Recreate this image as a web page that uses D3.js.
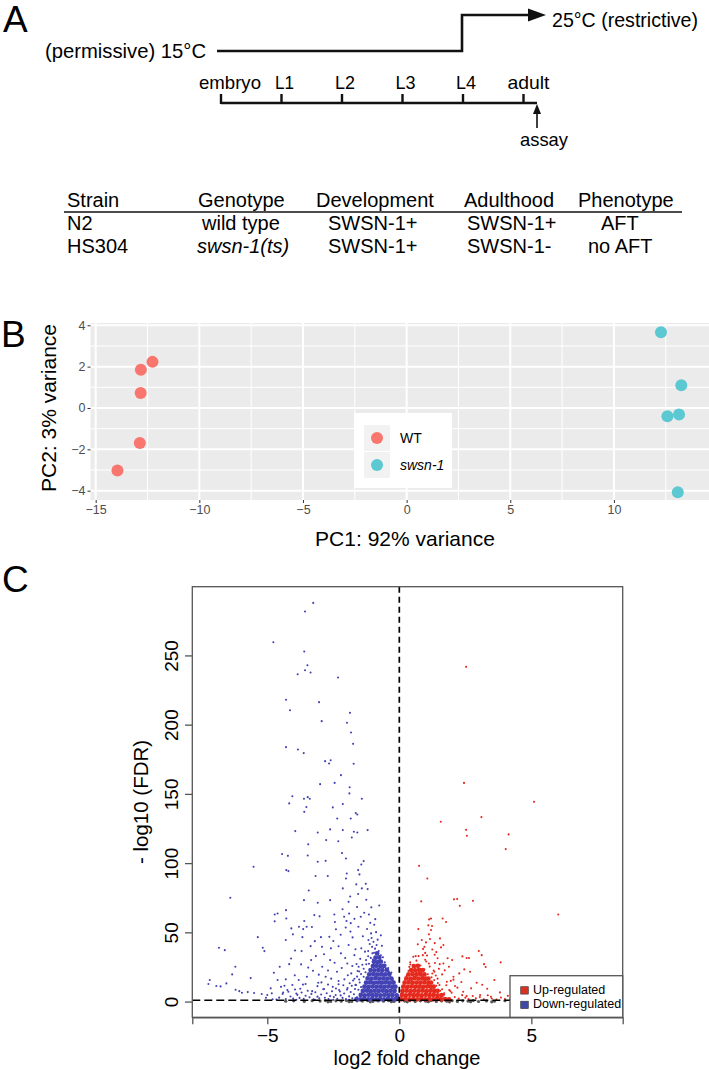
<!DOCTYPE html>
<html><head><meta charset="utf-8">
<script src="https://cdn.jsdelivr.net/npm/d3@7"></script>
<style>
body{margin:0;background:#fff}
svg{display:block;font-family:"Liberation Sans",Arial,Helvetica,sans-serif}
</style>
</head><body>
<svg id="fig" width="709" height="1070"></svg>
<script>
// ---------------- DATA ----------------
// Panel A
const stages = ["embryo","L1","L2","L3","L4","adult"];
const tempLabels = ["(permissive) 15°C","25°C (restrictive)"];
const tableHeaders = ["Strain","Genotype","Development","Adulthood","Phenotype"];
const tableRows = [
  ["N2","wild type","SWSN-1+","SWSN-1+","AFT"],
  ["HS304","swsn-1(ts)","SWSN-1+","SWSN-1-","no AFT"]
];
// Panel B (PCA)
const pcaGroups = ["WT","swsn-1"];
const pcaWT = [[-12.26,2.23],[-12.82,1.85],[-12.83,0.73],[-12.87,-1.69],[-13.95,-3.02]];
const pcaSwsn = [[12.27,3.66],[13.25,1.10],[12.58,-0.40],[13.14,-0.31],[13.08,-4.08]];
const pcaXTicks = [-15,-10,-5,0,5,10];
const pcaYTicks = [-4,-2,0,2,4];
// Panel C (volcano)
const volcanoXTicks = [-5,0,5];
const volcanoYTicks = [0,50,100,150,200,250];
const volcanoLegend = ["Up-regulated","Down-regulated"];
const fdrCut = 1.3;
const blueScatter = [
[-3.26,288.3],[-3.57,282.1],[-4.77,259.9],[-3.60,253.2],[-3.48,243.3],[-3.57,239.7],[-3.36,238.0],[-3.85,236.8],[-2.32,234.4],[-4.29,218.3],[-3.04,216.6],[-4.14,210.8],[-2.94,202.9],[-1.87,208.9],[-1.98,201.7],[-1.83,194.7],[-1.75,186.5],[-4.29,184.1],[-3.84,182.4],[-3.62,179.8],[-2.81,174.0],[-2.66,172.3],[-2.60,174.7],[-1.73,172.1],[-2.21,163.9],[-3.00,157.4],[-2.45,158.3],[-1.88,155.2],[-1.89,150.7],[-4.05,148.7],[-4.17,143.5],[-3.61,146.8],[-3.47,148.0],[-3.39,146.8],[-1.42,146.8],[-3.52,140.8],[-3.60,137.4],[-2.52,140.6],[-2.14,143.0],[-1.65,136.5],[-1.59,135.5],[-2.35,132.6],[-1.84,132.6],
[-3.94,123.5],[-3.09,122.5],[-2.62,124.7],[-2.14,124.2],[-1.72,123.0],[-1.59,122.5],[-1.20,124.2],[-1.80,118.9],[-2.77,117.0],[-2.31,116.2],[-3.45,113.9],[-4.44,106.9],[-4.22,105.6],[-3.47,105.9],[-2.17,107.6],[-2.02,103.7],[-1.35,101.8],[-1.44,99.4],[-2.79,102.0],[-3.09,101.3],[-5.52,97.7],[-4.28,95.3],[-4.20,94.6],[-3.17,91.0],[-2.71,91.0],[-1.56,95.3],[-1.51,92.2],[-1.99,92.9],[-2.02,89.3],[-1.27,85.4],[-1.63,85.0],[-2.14,82.1],[-1.42,82.1],[-3.43,80.6],[-6.40,75.3],[-1.20,81.6],[-1.56,78.0],[-1.86,76.3],[-3.09,71.7],[-2.62,73.6],[-3.61,73.6],[-1.92,72.4],[-0.76,69.8],[-1.06,68.4],[-4.29,66.4],[-4.61,64.0],[-4.72,63.3],[-3.22,62.8],[-3.02,61.9],[-2.46,63.3],[-2.09,61.6],[-4.28,60.4],[-1.33,64.5],[-1.46,61.6],[-0.91,59.9],[-4.72,58.3],[-2.44,57.8],[-1.84,57.0],[-3.51,54.4],[-3.64,52.7],[-3.80,54.4],[-3.31,54.2],[-4.09,53.2],[-5.36,46.9],[-2.03,53.9],[-1.55,54.4],[-4.03,48.9],[-4.30,44.8],[-3.67,46.9],[-2.97,46.9],[-2.65,47.1],[-1.77,46.7],[-2.22,48.6],[-1.07,49.6],[-6.83,39.2],[-6.61,37.5],[-5.17,39.2],[-5.11,36.8],[-3.36,40.4],[-2.93,39.9],[-2.59,38.8],[-3.70,36.8],[-1.03,39.9],[-1.12,41.9],[-0.86,41.2],[-6.21,25.5],[-6.33,20.0],[-5.63,17.3],[-7.18,15.9],[-7.23,13.0],[-6.93,11.6],[-6.77,11.3],[-6.55,13.5],[-6.20,8.9],[-6.06,7.9],[-5.96,6.7],[-5.74,7.2],[-5.50,6.5],[-5.21,5.8],[-5.00,5.1],[-4.83,6.3],[-4.87,9.9],[-4.75,21.2],[-4.61,15.9],[-4.53,25.5],[-4.48,11.0],[-4.30,16.4],[-4.17,27.4],[-4.24,8.7],[-3.96,19.3],[-3.81,15.9],[-3.72,27.2],[-3.50,18.3],[-3.34,30.3],[-3.27,22.6],[-3.16,33.2],[-3.07,13.9],[-2.92,25.5],[-2.79,18.3],[-2.62,30.3],[-2.52,11.0],[-2.36,21.9],[-2.21,35.2],[-2.08,16.4],[-1.97,27.9],[-1.92,41.2],[-1.82,20.7],[-1.70,33.9],[-1.64,12.3],[-1.54,25.5],[-1.44,38.8],[-1.35,18.3],[-1.26,30.3],[-1.17,44.8],[-1.11,22.6],[-0.96,35.6],[-0.73,30.3],[-0.61,25.5],[-0.45,20.7],
[-2.45,28.4],[-2.3,15.2],[-2.18,24.6],[-2.05,31.8],[-1.95,19.4],[-1.88,13.6],[-1.78,26.1],[-1.7,16.8],[-1.66,38.2],[-1.58,22.4],[-1.5,14.1],[-1.48,31.2],[-1.4,26.9],[-1.38,47.5],[-1.3,36.4],[-1.28,21.5],[-1.22,52.8],[-1.18,33.1],[-1.15,27.7],[-1.1,57.2],[-1.05,46.3],[-1.0,30.8],[-0.98,43.5],[-0.92,38.6],[-0.88,50.5],[-0.82,45.1],[-0.78,36.9],[-0.7,33.8],[-0.66,40.6],[-0.55,28.7],[-0.5,24.3],[-0.4,22.1],[-0.35,18.6],[-2.85,9.4],[-2.7,12.6],[-2.58,16.9],[-2.4,9.8],[-2.25,7.6],[-2.12,12.2],[-1.98,9.0],[-3.1,11.5],[-3.3,7.9],[-3.55,13.1],[-3.75,9.6],[-3.9,6.1],[-4.05,12.3],[-4.4,6.9],[-3.45,24.9],[-3.05,19.8],[-2.7,22.8],[-2.5,44.1],[-2.4,52.6],[-2.3,40.3],[-2.0,58.5],[-1.9,63.9],[-1.85,50.9],[-1.6,68.7],[-1.25,73.9],[-1.15,63.2],[-0.95,55.8],[-1.7,60.1],[-2.85,34.5],[-3.2,44.0],[-3.95,37.2],[-4.1,31.5],[-3.6,58.6],[-2.15,67.0],[-0.7,48.2],
[-4.55,3.2],[-4.42,5.8],[-4.3,2.1],[-4.2,7.4],[-4.12,4.0],[-4.02,2.6],[-3.95,9.1],[-3.86,5.2],[-3.78,3.0],[-3.7,6.9],[-3.62,2.3],[-3.55,4.6],[-3.47,8.2],[-3.4,3.4],[-3.33,5.9],[-3.25,2.0],[-3.18,7.1],[-3.1,3.9],[-3.03,2.7],[-2.96,5.5],[-2.88,9.3],[-2.82,3.1],[-2.75,6.4],[-2.68,2.2],[-2.62,4.3],[-2.55,7.8],[-2.48,3.6],[-2.41,5.1],[-2.35,2.4],[-2.28,8.7],[-2.22,4.8],[-2.15,3.0],[-2.09,6.2],[-2.02,2.1],[-1.96,10.2],[-1.9,4.1],[-1.84,7.3],[-1.78,2.8],[-1.72,5.6],[-1.66,12.4],[-1.6,3.5],[-1.55,8.9],[-4.8,2.0],[-5.05,3.1],[-4.65,1.8],[-3.9,1.7],[-3.2,1.6],[-2.5,1.6],[-1.9,1.7],[-4.35,11.8],[-3.65,12.6],[-2.95,14.2],[-2.3,12.9],[-1.75,15.6],[-1.6,18.4],[-1.52,22.1],[-1.45,10.8],[-1.62,27.5],
[-1.35,24.1],[-1.25,27.3],[-1.18,36.8],[-1.08,31.9],[-1.02,35.2],[-0.62,32.4],[-0.52,26.8],[-0.42,24.6],[-0.3,21.3],[-0.24,15.8],[-1.45,20.2],[-1.52,16.3],[-1.68,9.4],[-1.8,11.7]
];
// dense core of down-regulated genes
const blueCore = [
[-1.62,2.1],[-1.47,1.9],[-1.33,2.3],[-1.18,2.0],[-1.03,2.2],[-0.88,1.9],[-0.73,2.1],[-0.58,2.0],[-0.43,2.2],[-0.28,1.9],[-0.14,2.1],[-0.05,2.4],
[-1.46,5.1],[-1.31,4.9],[-1.16,5.2],[-1.01,5.0],[-0.86,5.1],[-0.71,4.9],[-0.56,5.2],[-0.41,5.0],[-0.26,5.1],[-0.1,4.9],
[-1.38,8.0],[-1.23,8.2],[-1.08,7.9],[-0.93,8.1],[-0.78,8.0],[-0.63,8.2],[-0.48,7.9],[-0.33,8.1],[-0.18,8.0],
[-1.32,11.1],[-1.17,10.9],[-1.02,11.2],[-0.87,11.0],[-0.72,11.1],[-0.57,10.9],[-0.42,11.2],[-0.27,11.0],[-0.15,11.1],
[-1.26,14.0],[-1.11,14.2],[-0.96,13.9],[-0.81,14.1],[-0.66,14.0],[-0.51,14.2],[-0.36,13.9],[-0.22,14.1],
[-1.2,17.1],[-1.05,16.9],[-0.9,17.2],[-0.75,17.0],[-0.6,17.1],[-0.45,16.9],[-0.3,17.0],
[-1.14,20.0],[-0.99,20.2],[-0.84,19.9],[-0.69,20.1],[-0.54,20.0],[-0.38,20.1],
[-1.09,23.1],[-0.94,22.9],[-0.79,23.2],[-0.64,23.0],[-0.47,23.1],
[-1.0,26.0],[-0.87,26.2],[-0.72,25.9],[-0.58,26.1],
[-0.96,29.1],[-0.82,28.9],[-0.7,29.2],
[-0.9,32.0],[-0.76,32.2],
[-0.84,35.1]
];
const redScatter = [
[2.53,242.1],[2.45,158.3],[5.10,144.6],[3.11,133.6],
[1.57,130.2],[2.53,124.4],[2.56,120.1],[4.14,121.1],[4.03,110.5],[0.75,98.4],[1.06,89.3],[0.83,72.7],[2.07,74.2],[2.19,74.4],[2.29,69.5],[2.79,73.1],[6.02,63.3],[1.20,60.4],[1.13,59.7],[1.64,60.4],[1.77,57.8],[1.10,55.4],[1.24,54.9],[0.72,52.7],[1.20,52.0],[1.54,46.0],[1.16,45.5],[1.01,43.1],[1.34,42.6],[0.95,39.9],[1.67,41.2],[1.58,39.5],[3.01,36.8],[3.12,33.9],[2.39,33.0],[2.55,31.8],[2.64,31.8],[1.34,34.2],[0.53,32.7],[0.62,33.2],[0.73,33.2],[0.89,33.9],[0.41,28.7],[1.83,31.6],[2.00,30.3],[1.45,31.6],[3.84,28.7],[3.21,27.4],[3.27,25.3],[1.53,27.4],[1.67,27.9],[1.88,25.5],[2.46,23.6],[2.68,21.9],[1.33,21.9],[1.62,20.0],[2.05,18.3],[2.27,20.7],[3.60,15.9],[2.93,13.9],[3.14,12.5],[3.33,9.6],[3.81,7.0],[4.11,4.5],[2.72,9.9],[2.42,7.4],[2.11,11.6],[1.80,14.7],[1.89,8.7],[1.52,12.3],[2.55,4.3],[3.06,5.1],[3.47,3.8],
[0.35,22.5],[0.42,27.1],[0.5,19.6],[0.58,24.8],[0.65,29.9],[0.72,21.2],[0.8,26.4],[0.88,18.5],[0.95,23.7],[1.02,29.3],[1.08,20.1],[1.15,25.6],[1.22,17.9],[1.3,22.8],[1.38,19.2],[1.46,13.8],[1.05,33.6],[0.9,38.4],[0.7,41.7],[1.12,48.9],[1.4,36.1],[1.72,22.9],[1.95,15.3],[0.6,17.2],[0.48,15.8],
[1.55,3.1],[1.7,5.4],[1.85,2.2],[1.98,6.8],[2.1,3.7],[2.25,2.5],[2.38,5.0],[2.5,3.2],[2.62,2.1],[2.78,4.4],[2.9,2.8],[3.05,3.6],[3.2,2.0],[3.35,4.9],[3.5,2.6],[3.68,1.9],[3.85,3.3],[4.0,2.2],[4.2,1.8],[4.4,2.4],[1.62,9.3],[1.78,12.1],[1.93,8.0],[2.2,10.4],[2.35,14.5],[2.05,16.2],[1.45,16.9],[1.5,24.0],[1.35,28.2],[1.25,38.0],[0.98,35.5],[0.85,44.8],
[0.28,19.2],[0.22,16.1],[1.25,20.6],[1.32,15.9],[1.4,11.8],[1.55,8.2],[1.7,6.4],[0.38,25.4],[1.12,27.9],[0.98,30.6]
];
// dense core of up-regulated genes
const redCore = [
[0.08,2.0],[0.23,2.2],[0.38,1.9],[0.53,2.1],[0.68,2.0],[0.83,2.2],[0.98,1.9],[1.13,2.1],[1.28,2.0],[1.43,2.2],[1.58,1.9],[1.73,2.1],[1.88,2.0],
[0.1,5.1],[0.25,4.9],[0.4,5.2],[0.55,5.0],[0.7,5.1],[0.85,4.9],[1.0,5.2],[1.15,5.0],[1.3,5.1],[1.45,4.9],[1.6,5.0],
[0.12,8.0],[0.27,8.2],[0.42,7.9],[0.57,8.1],[0.72,8.0],[0.87,8.2],[1.02,7.9],[1.17,8.1],[1.32,8.0],[1.45,8.1],
[0.15,11.1],[0.3,10.9],[0.45,11.2],[0.6,11.0],[0.75,11.1],[0.9,10.9],[1.05,11.2],[1.2,11.0],[1.3,11.1],
[0.2,14.0],[0.35,14.2],[0.5,13.9],[0.65,14.1],[0.8,14.0],[0.95,14.2],[1.1,13.9],[1.2,14.1],
[0.27,17.1],[0.42,16.9],[0.57,17.2],[0.72,17.0],[0.87,17.1],[1.0,16.9],[1.1,17.0],
[0.35,20.0],[0.5,20.2],[0.65,19.9],[0.8,20.1],[0.95,20.0],
[0.45,23.1],[0.6,22.9],[0.75,23.2],[0.88,23.0],
[0.55,26.0],[0.7,26.2]
];
const grayPts = [
[-4.3,0.6],[-4.0,0.9],[-3.6,0.5],[-3.3,1.0],[-3.0,0.7],[-2.8,1.1],[-2.6,0.4],[-2.4,0.9],[-2.2,0.6],[-2.0,1.1],[-1.8,0.5],[-1.6,0.9],[-1.4,0.7],[-1.2,1.0],[-1.0,0.4],[-0.8,0.8],[-0.6,0.6],[-0.4,1.0],[-0.2,0.5],
[0.2,0.7],[0.4,1.0],[0.6,0.5],[0.8,0.9],[1.0,0.6],[1.2,1.1],[1.4,0.4],[1.6,0.8],[1.8,0.6],[2.0,1.0],[2.2,0.5],[2.4,0.9],[2.6,0.7],[2.8,1.1],[3.0,0.4],[3.3,0.8],[3.6,0.6],[4.0,1.0],
[-2.7,0.2],[-1.9,0.3],[-1.1,0.2],[-0.3,0.3],[0.3,0.2],[1.1,0.3],[1.9,0.2],[2.7,0.3],[3.5,0.2]
];

// ---------------- DRAWING ----------------
const svg = d3.select("#fig");
const ink = "#111";

// panel letters
[["A",3,32],["B",1,347],["C",2,592]].forEach(([t,x,y]) =>
  svg.append("text").attr("x",x).attr("y",y).attr("font-size",37).attr("fill","#000").text(t));

// ===== Panel A =====
const gA = svg.append("g");
const stageX = d3.scalePoint().domain(stages).range([221, 523.5]);
const shiftX = stageX("L4") - 1;
const tempPath = [[stageX("embryo")-4, 51],[shiftX,51],[shiftX,15],[530,15]];
gA.append("path").attr("d", d3.line()(tempPath)).attr("fill","none")
  .attr("stroke",ink).attr("stroke-width",2.6).attr("stroke-linejoin","miter");
gA.append("path").attr("d","M528,8.5 L546,15 L528,21.5 Z").attr("fill",ink);
gA.append("text").attr("x",45).attr("y",58).attr("font-size",21)
  .attr("textLength",161).attr("lengthAdjust","spacingAndGlyphs").text(tempLabels[0]);
gA.append("text").attr("x",552).attr("y",27).attr("font-size",21)
  .attr("textLength",146).attr("lengthAdjust","spacingAndGlyphs").text(tempLabels[1]);
// timeline
const tlY = 103;
gA.append("line").attr("x1",stageX("embryo")).attr("x2",537).attr("y1",tlY).attr("y2",tlY)
  .attr("stroke",ink).attr("stroke-width",2.4);
gA.selectAll("line.tick").data(stages).join("line").attr("class","tick")
  .attr("x1",d=>stageX(d)).attr("x2",d=>stageX(d)).attr("y1",tlY+1).attr("y2",tlY-9)
  .attr("stroke",ink).attr("stroke-width",2.4);
const stageW = {"embryo":62,"L1":19,"L2":20,"L3":20,"L4":20,"adult":42};
gA.selectAll("text.stage").data(stages).join("text").attr("class","stage")
  .attr("x",(d,i)=>stageX(d) + (i===0?9:(i===5?5:3))).attr("y",89).attr("text-anchor","middle")
  .attr("font-size",19).attr("textLength",d=>stageW[d]).attr("lengthAdjust","spacingAndGlyphs").text(d=>d);
// assay arrow
gA.append("line").attr("x1",537).attr("x2",537).attr("y1",128).attr("y2",112).attr("stroke",ink).attr("stroke-width",1.6);
gA.append("path").attr("d","M533,114 L537,104 L541,114 Z").attr("fill",ink);
gA.append("text").attr("x",544).attr("y",146).attr("text-anchor","middle").attr("font-size",19)
  .attr("textLength",48).attr("lengthAdjust","spacingAndGlyphs").text("assay");

// table
const headX = [67,198,316,464,578];
const rowX = [[67,202,328,467,601],[67,197,328,467,588]];
const rowY = [230,253];
gA.selectAll("text.th").data(tableHeaders).join("text").attr("class","th")
  .attr("x",(d,i)=>headX[i]).attr("y",207).attr("font-size",20).text(d=>d);
gA.append("line").attr("x1",64).attr("x2",682).attr("y1",212).attr("y2",212).attr("stroke",ink).attr("stroke-width",1.5);
tableRows.forEach((row,r)=>{
  gA.selectAll("text.r"+r).data(row).join("text").attr("class","r"+r)
    .attr("x",(d,i)=>rowX[r][i]).attr("y",rowY[r]).attr("font-size",20)
    .attr("font-style",d=>d.startsWith("swsn")?"italic":"normal").text(d=>d);
});

// ===== Panel B =====
const gB = svg.append("g");
const xB = d3.scaleLinear().domain([-15.25,14.62]).range([90.5,709.7]);
const yB = d3.scaleLinear().domain([-4.45,4.11]).range([500,323]);
gB.append("rect").attr("x",xB.range()[0]).attr("y",yB.range()[1])
  .attr("width",xB.range()[1]-xB.range()[0]).attr("height",yB.range()[0]-yB.range()[1]).attr("fill","#EBEBEB");
const minorX = pcaXTicks.map(v=>v+2.5), minorY = pcaYTicks.slice(0,-1).map(v=>v+1);
gB.selectAll("line.mx").data(minorX).join("line").attr("x1",d=>xB(d)).attr("x2",d=>xB(d))
  .attr("y1",yB.range()[0]).attr("y2",yB.range()[1]).attr("stroke","#fff").attr("stroke-width",1);
gB.selectAll("line.my").data(minorY).join("line").attr("y1",d=>yB(d)).attr("y2",d=>yB(d))
  .attr("x1",xB.range()[0]).attr("x2",xB.range()[1]).attr("stroke","#fff").attr("stroke-width",1);
gB.selectAll("line.gx").data(pcaXTicks).join("line").attr("x1",d=>xB(d)).attr("x2",d=>xB(d))
  .attr("y1",yB.range()[0]).attr("y2",yB.range()[1]).attr("stroke","#fff").attr("stroke-width",2);
gB.selectAll("line.gy").data(pcaYTicks).join("line").attr("y1",d=>yB(d)).attr("y2",d=>yB(d))
  .attr("x1",xB.range()[0]).attr("x2",xB.range()[1]).attr("stroke","#fff").attr("stroke-width",2);
// axes
const axB = gB.append("g").attr("transform",`translate(0,${yB.range()[0]})`)
  .call(d3.axisBottom(xB).tickValues(pcaXTicks).tickSize(3).tickPadding(2).tickFormat(d=>d<0?"\u2212"+(-d):d));
const ayB = gB.append("g").attr("transform",`translate(${xB.range()[0]},0)`)
  .call(d3.axisLeft(yB).tickValues(pcaYTicks).tickSize(3).tickPadding(2).tickFormat(d=>d<0?"\u2212"+(-d):d));
[axB,ayB].forEach(a=>{
  a.select(".domain").remove();
  a.selectAll(".tick line").attr("stroke","#333").attr("stroke-width",1);
  a.selectAll(".tick text").attr("fill","#4D4D4D").attr("font-size",12.5)
   .attr("font-family",'"Liberation Sans",Arial,sans-serif');
});
gB.append("text").attr("x",405).attr("y",546).attr("text-anchor","middle").attr("font-size",21).text("PC1: 92% variance");
gB.append("text").attr("transform","translate(55.5,408) rotate(-90)").attr("text-anchor","middle").attr("font-size",21).text("PC2: 3% variance");
const pcaColors = ["#F8766D","#5BC8D2"];
[pcaWT,pcaSwsn].forEach((pts,i)=>{
  gB.selectAll("circle.p"+i).data(pts).join("circle").attr("class","p"+i)
    .attr("cx",d=>xB(d[0])).attr("cy",d=>yB(d[1])).attr("r",6).attr("fill",pcaColors[i]);
});
// legend B
gB.append("rect").attr("x",354).attr("y",413).attr("width",98).attr("height",75).attr("fill","#fff");
pcaGroups.forEach((g,i)=>{
  const ky = 425 + i*27;
  gB.append("rect").attr("x",364).attr("y",ky).attr("width",26).attr("height",26).attr("fill","#F2F2F2");
  gB.append("circle").attr("cx",377).attr("cy",ky+13).attr("r",6).attr("fill",pcaColors[i]);
  gB.append("text").attr("x",400).attr("y",ky+18).attr("font-size",14).attr("fill","#000")
    .attr("font-style",i===1?"italic":"normal").text(g);
});

// ===== Panel C =====
const gC = svg.append("g");
const xC = d3.scaleLinear().domain([-7.84,8.46]).range([192.3,622.7]);
const yC = d3.scaleLinear().domain([-11,300]).range([1017.3,586.7]);
svg.append("defs").append("clipPath").attr("id","clipC").append("rect")
  .attr("x",192.3).attr("y",586.7).attr("width",430.4).attr("height",430.6);
const pts = gC.append("g").attr("clip-path","url(#clipC)");
const upCol = "#E52A1E", downCol = "#4343B5";
pts.selectAll("circle.g").data(grayPts).join("circle").attr("class","g")
  .attr("cx",d=>xC(d[0])).attr("cy",d=>yC(d[1])).attr("r",1.6).attr("fill","#5a5a5a");
pts.selectAll("circle.bc").data(blueCore).join("circle").attr("class","bc")
  .attr("cx",d=>xC(d[0])).attr("cy",d=>yC(d[1])).attr("r",2.4).attr("fill",downCol);
pts.selectAll("circle.rc").data(redCore).join("circle").attr("class","rc")
  .attr("cx",d=>xC(d[0])).attr("cy",d=>yC(d[1])).attr("r",2.4).attr("fill",upCol);
pts.selectAll("circle.b").data(blueScatter).join("circle").attr("class","b")
  .attr("cx",d=>xC(d[0])).attr("cy",d=>yC(d[1])).attr("r",1.05).attr("fill",downCol);
pts.selectAll("circle.r").data(redScatter).join("circle").attr("class","r")
  .attr("cx",d=>xC(d[0])).attr("cy",d=>yC(d[1])).attr("r",1.05).attr("fill",upCol);
// dashed reference lines
pts.append("line").attr("x1",xC(0)).attr("x2",xC(0)).attr("y1",yC.range()[1]).attr("y2",yC.range()[0])
  .attr("stroke","#000").attr("stroke-width",1.7).attr("stroke-dasharray","6,4");
pts.append("line").attr("x1",xC.range()[0]).attr("x2",xC.range()[1]).attr("y1",yC(fdrCut)).attr("y2",yC(fdrCut))
  .attr("stroke","#000").attr("stroke-width",1.7).attr("stroke-dasharray","8,4");
// box
gC.append("rect").attr("x",192.3).attr("y",586.7).attr("width",430.4).attr("height",430.6)
  .attr("fill","none").attr("stroke","#555").attr("stroke-width",1.3);
// axes
const axC = gC.append("g").attr("transform",`translate(0,${yC.range()[0]})`)
  .call(d3.axisBottom(xC).tickValues(volcanoXTicks).tickSize(7).tickPadding(4));
axC.select(".domain").attr("stroke","#555").attr("stroke-width",1.3);
axC.selectAll(".tick line").attr("stroke","#555").attr("stroke-width",1.3);
axC.selectAll(".tick text").attr("font-size",19).attr("fill","#000").attr("font-family",'"Liberation Sans",Arial,sans-serif');
gC.selectAll("line.yt").data(volcanoYTicks).join("line").attr("class","yt")
  .attr("x1",185).attr("x2",192.3).attr("y1",d=>yC(d)).attr("y2",d=>yC(d)).attr("stroke","#555").attr("stroke-width",1.3);
gC.selectAll("text.yl").data(volcanoYTicks).join("text").attr("class","yl")
  .attr("transform",d=>`translate(177.5,${yC(d)}) rotate(-90)`).attr("text-anchor","middle")
  .attr("font-size",19).text(d=>d);
gC.append("text").attr("x",407).attr("y",1065).attr("text-anchor","middle").attr("font-size",20).text("log2 fold change");
gC.append("text").attr("transform","translate(148,802) rotate(-90)").attr("text-anchor","middle").attr("font-size",20.5).text("- log10 (FDR)");
// legend C
gC.append("rect").attr("x",510).attr("y",975.7).attr("width",112.7).attr("height",41.6)
  .attr("fill","#fff").attr("stroke","#555").attr("stroke-width",1.3);
volcanoLegend.forEach((t,i)=>{
  const ly = 986.7 + i*14.5;
  gC.append("rect").attr("x",520.7).attr("y",ly).attr("width",7.6).attr("height",7.4)
    .attr("fill",i===0?"#D93223":"#3F49A8").attr("stroke","#333").attr("stroke-width",0.6);
  gC.append("text").attr("x",533).attr("y",ly+7.2).attr("font-size",12.5).text(t);
});
</script>
</body></html>
